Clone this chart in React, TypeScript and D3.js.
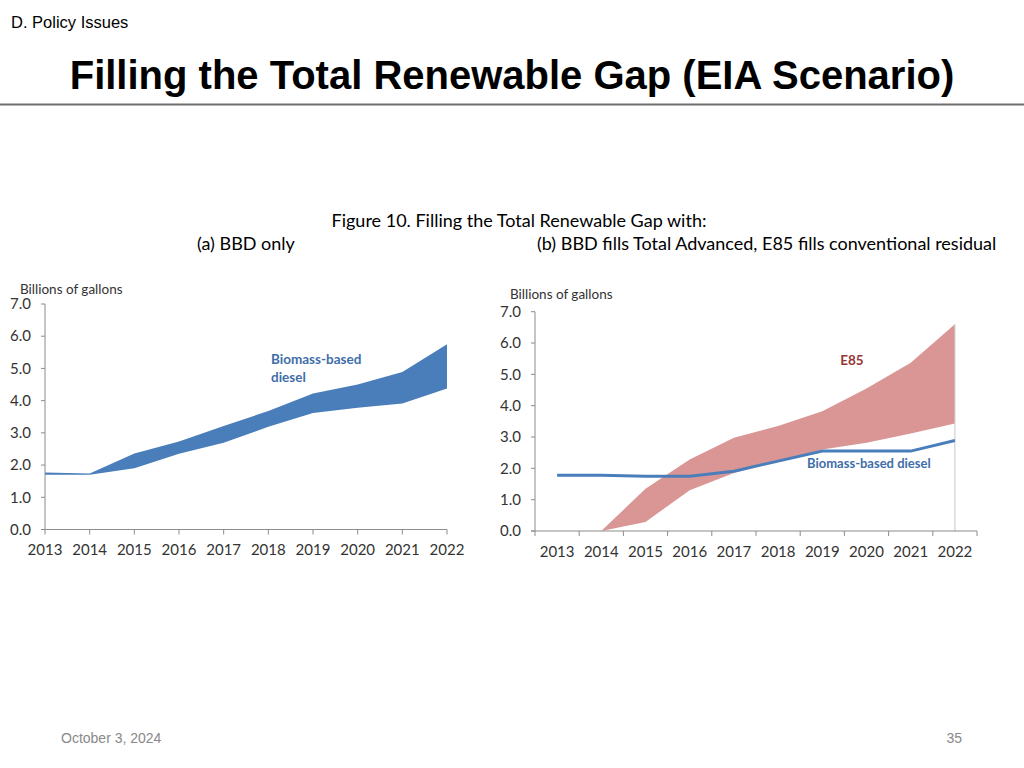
import React from "react";
import * as d3 from "d3";

const years = ["2013","2014","2015","2016","2017","2018","2019","2020","2021","2022"];
const yTicks = [0,1,2,3,4,5,6,7];

// Panel (a): BBD only band
const bbdLowerA = [1.70, 1.70, 1.90, 2.35, 2.69, 3.19, 3.62, 3.78, 3.91, 4.38];
const bbdUpperA = [1.77, 1.74, 2.36, 2.73, 3.21, 3.68, 4.22, 4.50, 4.89, 5.75];

// Panel (b)
const bbdLineB = [1.78, 1.78, 1.75, 1.75, 1.91, 2.23, 2.55, 2.55, 2.55, 2.89];
const e85Years = ["2014","2015","2016","2017","2018","2019","2020","2021","2022"];
const e85Lower = [0.0, 0.29, 1.30, 1.85, 2.23, 2.60, 2.82, 3.11, 3.43];
const e85Upper = [0.0, 1.35, 2.28, 2.98, 3.35, 3.82, 4.55, 5.37, 6.60];

const FONT = "Lato, 'Open Sans', sans-serif";
const ARIAL = "'Liberation Sans', Arial, sans-serif";
const AX = "#8c8c8c";
const TXT = "#333333";

function PanelA() {
  const x = d3.scalePoint<string>().domain(years).range([45, 447]).padding(0);
  const y = d3.scaleLinear().domain([0, 7]).range([529.5, 304]);
  const data = years.map((yr, i) => ({ yr, lo: bbdLowerA[i], hi: bbdUpperA[i] }));
  const area = d3.area<any>().x(d => x(d.yr)!).y0(d => y(d.lo)).y1(d => y(d.hi));
  return (
    <g>
      <text x={20} y={294} fontFamily={FONT} fontSize={13.5} fill={TXT}>Billions of gallons</text>
      <path d={area(data)!} fill="#4A7EBB" />
      <line x1={45} x2={45} y1={y(7)} y2={y(0)} stroke={AX} strokeWidth={1} />
      <line x1={41} x2={447} y1={y(0)} y2={y(0)} stroke={AX} strokeWidth={1} />
      {yTicks.map(t => (
        <g key={t}>
          <line x1={41} x2={45} y1={y(t)} y2={y(t)} stroke={AX} />
          <text x={31} y={y(t)} dy="0.35em" textAnchor="end" fontFamily={FONT} fontSize={15} fill={TXT}>{t.toFixed(1)}</text>
        </g>
      ))}
      {years.map(yr => (
        <g key={yr}>
          <line x1={x(yr)} x2={x(yr)} y1={y(0)} y2={y(0) + 5} stroke={AX} />
          <text x={x(yr)} y={550} dy="0.35em" textAnchor="middle" fontFamily={FONT} fontSize={15} fill={TXT}>{yr}</text>
        </g>
      ))}
      <text x={271} y={364} fontFamily={FONT} fontSize={13.5} fontWeight={700} fill="#3F6EA8">Biomass-based</text>
      <text x={271} y={382} fontFamily={FONT} fontSize={13.5} fontWeight={700} fill="#3F6EA8">diesel</text>
    </g>
  );
}

function PanelB() {
  const x = d3.scaleBand<string>().domain(years).range([535, 977]).padding(0);
  const bw = x.bandwidth();
  const cx = (yr: string) => x(yr)! + bw / 2;
  const y = d3.scaleLinear().domain([0, 7]).range([531, 311.7]);
  const e85 = e85Years.map((yr, i) => ({ yr, lo: e85Lower[i], hi: e85Upper[i] }));
  const area = d3.area<any>().x(d => cx(d.yr)).y0(d => y(d.lo)).y1(d => y(d.hi));
  const line = d3.line<any>().x(d => cx(d.yr)).y(d => y(d.v));
  const bbd = years.map((yr, i) => ({ yr, v: bbdLineB[i] }));
  const last = e85[e85.length - 1];
  return (
    <g>
      <text x={510} y={299} fontFamily={FONT} fontSize={13.5} fill={TXT}>Billions of gallons</text>
      <path d={area(e85)!} fill="#D99694" />
      <line x1={cx(last.yr)} x2={cx(last.yr)} y1={y(last.hi)} y2={y(0)} stroke="#c8c8c8" strokeWidth={1} />
      <path d={line(bbd)!} fill="none" stroke="#4A7EBB" strokeWidth={3} />
      <line x1={535} x2={535} y1={y(7)} y2={y(0)} stroke={AX} strokeWidth={1} />
      <line x1={531} x2={977} y1={y(0)} y2={y(0)} stroke={AX} strokeWidth={1} />
      {yTicks.map(t => (
        <g key={t}>
          <line x1={531} x2={535} y1={y(t)} y2={y(t)} stroke={AX} />
          <text x={521} y={y(t)} dy="0.35em" textAnchor="end" fontFamily={FONT} fontSize={15} fill={TXT}>{t.toFixed(1)}</text>
        </g>
      ))}
      {[...years.map(yr => x(yr)!), 977].map((px, i) => (
        <line key={i} x1={px} x2={px} y1={y(0)} y2={y(0) + 5} stroke={AX} />
      ))}
      {years.map(yr => (
        <text key={yr} x={cx(yr)} y={552} dy="0.35em" textAnchor="middle" fontFamily={FONT} fontSize={15} fill={TXT}>{yr}</text>
      ))}
      <text x={852} y={365} textAnchor="middle" fontFamily={FONT} fontSize={13.5} fontWeight={700} fill="#953735">E85</text>
      <text x={807} y={468} fontFamily={FONT} fontSize={13} fontWeight={700} fill="#3F6EA8">Biomass-based diesel</text>
    </g>
  );
}

export default function App() {
  return (
    <svg width={1024} height={768} style={{ position: "absolute", left: 0, top: 0, background: "#fff" }}>
      <rect x={0} y={0} width={1024} height={768} fill="#fff" />
      <text x={11} y={28} fontFamily={ARIAL} fontSize={16.5} fill="#000">D. Policy Issues</text>
      <text x={512} y={89} textAnchor="middle" fontFamily={ARIAL} fontSize={40} fontWeight={700} fill="#000">Filling the Total Renewable Gap (EIA Scenario)</text>
      <line x1={0} x2={1024} y1={104.5} y2={104.5} stroke="#6e6e6e" strokeWidth={2} />
      <text x={519} y={227} textAnchor="middle" fontFamily={FONT} fontSize={18} fill="#000">Figure 10. Filling the Total Renewable Gap with:</text>
      <text x={197} y={250} fontFamily={FONT} fontSize={18} fill="#000">(a) BBD only</text>
      <text x={537} y={250} fontFamily={FONT} fontSize={18} fill="#000">(b) BBD fills Total Advanced, E85 fills conventional residual</text>
      <PanelA />
      <PanelB />
      <text x={61} y={743} fontFamily={ARIAL} fontSize={14} fill="#888">October 3, 2024</text>
      <text x={962} y={743} textAnchor="end" fontFamily={ARIAL} fontSize={14} fill="#888">35</text>
    </svg>
  );
}
